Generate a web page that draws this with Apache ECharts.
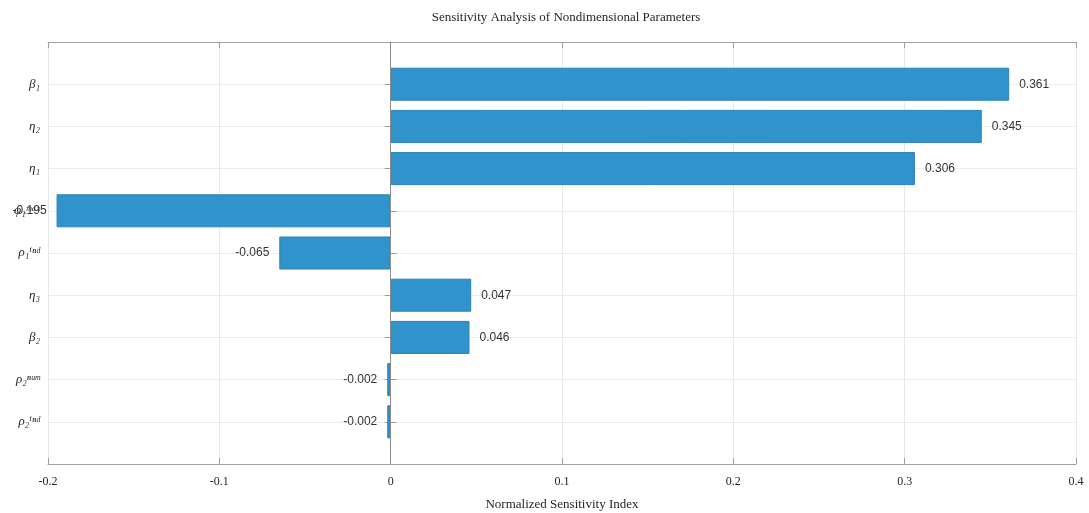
<!DOCTYPE html>
<html>
<head>
<meta charset="utf-8">
<script src="https://cdn.jsdelivr.net/npm/echarts@6/dist/echarts.min.js"></script>
<style>
  html, body { margin: 0; padding: 0; background: #fff; }
  #main { width: 1089px; height: 513px; }
</style>
</head>
<body>
<div id="main"></div>
<script>
// parameters, top to bottom
const params = ["β₁", "η₂", "η₁", "φ₁ᵐᵃˣ", "ρ₁ⁱⁿᵈ", "η₃", "β₂", "ρ₂ⁿᵘᵐ", "ρ₂ⁱⁿᵈ"]
const sensitivity = [0.361, 0.345, 0.306, -0.195, -0.065, 0.047, 0.046, -0.002, -0.002]
const xTicks = [-0.2, -0.1, 0, 0.1, 0.2, 0.3, 0.4]

// pad one empty slot above and below, like matlab's ylim
const cats = [""].concat(params, [""])
const vals = [null].concat(sensitivity, [null])

const isReal = (i) => i > 0 && i < cats.length - 1
const axisColor = "#a0a0a0"
const serif = "'Liberation Serif', 'DejaVu Serif', serif"

let myChart = echarts.init(document.getElementById("main"))
myChart.setOption({
  animation: false,
  title: {
    text: "Sensitivity Analysis of Nondimensional Parameters",
    left: 561,
    textAlign: "center",
    top: 6,
    textStyle: { fontFamily: serif, fontSize: 13, fontWeight: "normal", color: "#262626" },
  },
  grid: { left: 48, right: 13, top: 42, bottom: 49, outerBoundsMode: "none", containLabel: false },
  xAxis: [
    {
      type: "value",
      min: xTicks[0],
      max: xTicks[xTicks.length - 1],
      interval: 0.1,
      name: "Normalized Sensitivity Index",
      nameLocation: "middle",
      nameGap: 34,
      nameTextStyle: { fontFamily: serif, fontSize: 13, color: "#262626" },
      axisLine: { show: true, lineStyle: { color: axisColor } },
      axisTick: { show: true, inside: true, length: 6, lineStyle: { color: axisColor } },
      axisLabel: {
        fontFamily: serif,
        fontSize: 12,
        color: "#262626",
        margin: 12,
        formatter: (v) => String(Math.round(v * 10) / 10),
      },
      splitLine: { show: true, lineStyle: { color: "#e8e8e8" } },
    },
    {
      type: "value",
      position: "top",
      min: xTicks[0],
      max: xTicks[xTicks.length - 1],
      interval: 0.1,
      axisLine: { show: true, lineStyle: { color: axisColor } },
      axisTick: { show: true, inside: true, length: 6, lineStyle: { color: axisColor } },
      axisLabel: { show: false },
      splitLine: { show: false },
    },
  ],
  yAxis: [
    {
      type: "category",
      data: cats,
      inverse: true,
      boundaryGap: false,
      axisLine: { show: true, lineStyle: { color: axisColor } },
      axisTick: { show: true, inside: true, length: 6, interval: (i) => isReal(i), lineStyle: { color: axisColor } },
      axisLabel: {
        interval: 0,
        fontFamily: serif,
        fontStyle: "italic",
        fontSize: 13,
        color: "#262626",
        margin: 8,
      },
      splitLine: { show: true, interval: (i) => isReal(i), lineStyle: { color: "#ececec" } },
    },
    {
      type: "category",
      data: cats,
      inverse: true,
      boundaryGap: false,
      position: "right",
      axisLine: { show: true, lineStyle: { color: axisColor } },
      axisTick: { show: true, inside: true, length: 6, interval: (i) => isReal(i), lineStyle: { color: axisColor } },
      axisLabel: { show: false },
      splitLine: { show: false },
    },
  ],
  series: [
    {
      type: "bar",
      xAxisIndex: 0,
      yAxisIndex: 0,
      barWidth: 33,
      data: vals.map((v) =>
        v === null
          ? null
          : { value: v, label: { position: v >= 0 ? "right" : "left" } }
      ),
      itemStyle: { color: "#3193cc", borderColor: "#2b82b8", borderWidth: 1 },
      label: {
        show: true,
        distance: 10,
        fontFamily: "'Liberation Sans', Arial, sans-serif",
        fontSize: 12,
        color: "#333",
        formatter: (p) => p.value.toFixed(3),
      },
      markLine: {
        silent: true,
        symbol: "none",
        label: { show: false },
        lineStyle: { color: "#8c8c8c", type: "solid", width: 1 },
        data: [{ xAxis: 0 }],
      },
    },
  ],
})

window.addEventListener("resize", () => {
  myChart.resize()
})
</script>
</body>
</html>
